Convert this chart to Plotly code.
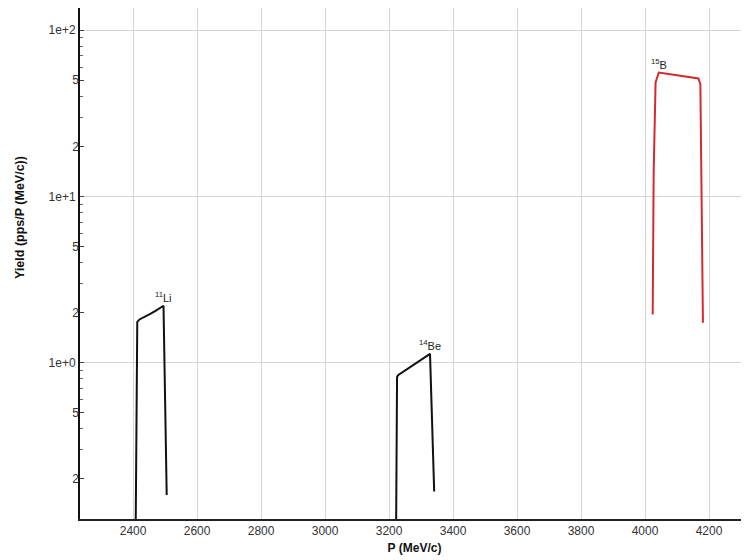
import math
import plotly.graph_objects as go

# ---- data ----
li_p = [2408, 2411, 2413, 2420, 2440, 2455, 2470, 2495, 2505]
li_y = [0.10, 1.72, 1.76, 1.82, 1.90, 1.97, 2.05, 2.20, 0.16]

be_p = [3222, 3225, 3228, 3240, 3265, 3287, 3292, 3328, 3341]
be_y = [0.10, 0.82, 0.84, 0.87, 0.94, 1.00, 1.02, 1.13, 0.168]

b_p = [4024, 4027, 4033, 4043, 4100, 4167, 4173, 4181]
b_y = [1.95, 13.9, 48.4, 55.6, 53.5, 51.2, 47.3, 1.74]

labels = ["<sup>11</sup>Li", "<sup>14</sup>Be", "<sup>15</sup>B"]
label_p = [2495, 3328, 4043]
label_y = [2.20, 1.13, 55.6]

x_ticks = [2400, 2600, 2800, 3000, 3200, 3400, 3600, 3800, 4000, 4200]
y_decades = [1, 10, 100]
y_decade_text = ["1e+0", "1e+1", "1e+2"]
y_sub = [0.2, 0.5, 2, 5, 20, 50]
y_sub_text = ["2", "5", "2", "5", "2", "5"]

x_range = [2234, 4325]
y_range = [-0.94, 2.133]

fig = go.Figure()
for px_, py_, col in [(li_p, li_y, "#111111"), (be_p, be_y, "#111111"), (b_p, b_y, "#d42a2a")]:
    fig.add_trace(go.Scatter(x=px_, y=py_, mode="lines", line=dict(color=col, width=2),
                             showlegend=False, hoverinfo="skip"))
# invisible trace for second y axis
fig.add_trace(go.Scatter(x=[x_range[0]], y=[1], yaxis="y2", mode="markers",
                         marker=dict(opacity=0), showlegend=False, hoverinfo="skip"))

for t, xp, yp in zip(labels, label_p, label_y):
    fig.add_annotation(x=xp, y=math.log10(yp), xref="x", yref="y", text=t, showarrow=False,
                       xanchor="center", yanchor="bottom", yshift=0,
                       font=dict(family="Liberation Sans, Arial", size=11, color="#222"))

# y axis title (placed higher than centre, as in the reference)
fig.add_annotation(x=-0.0897, y=0.591, xref="paper", yref="paper", text="<b>Yield (pps/P (MeV/c))</b>",
                   textangle=-90, showarrow=False, xanchor="center", yanchor="middle",
                   font=dict(family="Liberation Sans, Arial", size=12.5, color="#111"))

tickfont = dict(family="Liberation Sans, Arial", size=12, color="#333")
fig.update_layout(
    width=741, height=552,
    margin=dict(l=72, r=0, t=0, b=41),
    paper_bgcolor="white", plot_bgcolor="white",
    xaxis=dict(range=x_range, tickvals=x_ticks, showgrid=True, gridcolor="#d4d4d4", gridwidth=1,
               showline=True, linecolor="#222", linewidth=2, mirror=True, automargin=False,
               ticks="", tickfont=tickfont, zeroline=False,
               title=dict(text="<b>P (MeV/c)</b>", font=dict(family="Liberation Sans, Arial", size=12, color="#111"),
                          standoff=6)),
    yaxis=dict(type="log", range=y_range, tickvals=y_decades, ticktext=y_decade_text,
               showgrid=True, gridcolor="#d4d4d4", gridwidth=1, automargin=False,
               showline=True, linecolor="#111", linewidth=2,
               ticks="inside", ticklen=4, tickcolor="#444", tickfont=tickfont, zeroline=False,
               minor=dict(ticks="inside", ticklen=3, tickcolor="#666", showgrid=False,
                          tickvals=[v * m for m in [0.1, 1, 10, 100] for v in [3, 4, 6, 7, 8, 9]])),
    yaxis2=dict(type="log", range=y_range, overlaying="y", side="left", tickvals=y_sub,
                ticktext=y_sub_text, showgrid=False, showline=False, zeroline=False, automargin=False,
                ticks="inside", ticklen=4, tickcolor="#444", tickfont=tickfont),
)

fig.write_html("out.html")
